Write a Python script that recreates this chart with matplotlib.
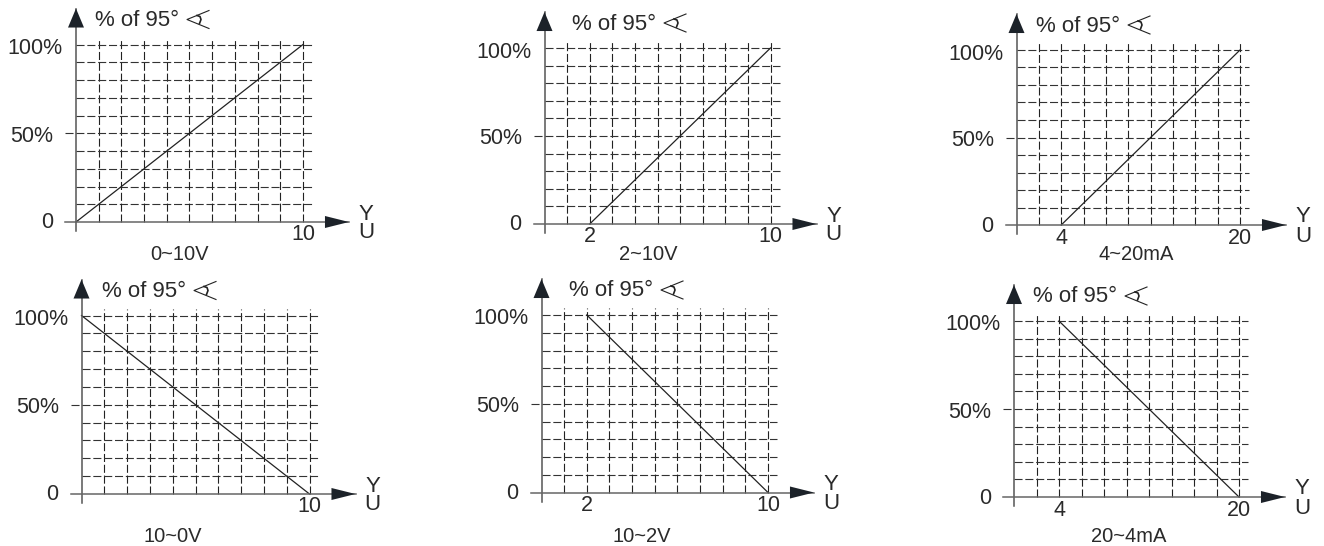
import matplotlib
matplotlib.use('Agg')
import matplotlib.pyplot as plt
from matplotlib.lines import Line2D
from matplotlib.transforms import IdentityTransform

plt.rcParams['font.family'] = ['Liberation Sans', 'DejaVu Sans']
plt.rcParams['lines.scale_dashes'] = False

W, H = 1324, 546

# data: input value vs % of 95 degrees
captions = ['0~10V', '2~10V', '4~20mA', '10~0V', '10~2V', '20~4mA']
x_ends = [[0, 10], [2, 10], [4, 20], [0, 10], [2, 10], [4, 20]]
y_ends = [[0, 100], [0, 100], [0, 100], [100, 0], [100, 0], [100, 0]]
x_max = [10, 10, 20, 10, 10, 20]
y_labels = ['0', '50%', '100%']
x_ticks = [[10], [2, 10], [4, 20], [10], [2, 10], [4, 20]]

# layout in pixels of the picture
origin_x = [76, 544.5, 1016.5, 81.5, 541.5, 1014]
right_x = [303, 770.5, 1240, 309.5, 768, 1239]
origin_y = [222, 224, 225, 494, 492.5, 497]
top_y = [44.5, 48, 50, 315.5, 315, 321]
head_dx = [19, 27.5, 19.5, 20.5, 27.5, 19]
caption_x = [179, 648, 1136, 173, 642, 1129]
caption_y = [255, 255, 255, 537, 537, 537]

DARK = '#1c2229'
DASH = (0, (5.8, 2.0))


def px_text(ax, x, y, dx, dy, s, size=15.5, ha='center'):
    # place text at a pixel offset from a data point
    ax.annotate(s, xy=(x, y), xytext=(dx * 0.72, -(dy + 1) * 0.72), textcoords='offset points',
                ha=ha, va='center', fontsize=size, color='#2a2a2a', annotation_clip=False)


fig = plt.figure(figsize=(W / 100, H / 100), dpi=100)

for i in range(6):
    x0, x1, y0, y1 = origin_x[i], right_x[i], origin_y[i], top_y[i]
    kx = x_max[i] / (x1 - x0)
    ky = 100 / (y0 - y1)
    ax = fig.add_axes([(x0 - 11) / W, (H - y0 - 9) / H, (x1 + 46 - x0 + 11) / W, (y0 + 9 - y1 + 36) / H])
    ax.set_xlim(-11 * kx, x_max[i] + 46 * kx)
    ax.set_ylim(-9 * ky, 100 + 36 * ky)
    ax.patch.set_alpha(0)
    ax.set_xticks([])
    ax.set_yticks([])
    for s in ['top', 'right']:
        ax.spines[s].set_visible(False)
    ax.spines['left'].set_position(('data', 0))
    ax.spines['bottom'].set_position(('data', 0))
    ax.spines['left'].set_color('#555555')
    ax.spines['bottom'].set_color('#666666')
    ax.spines['left'].set_linewidth(1.1)
    ax.spines['bottom'].set_linewidth(1.1)

    # dashed grid, 10 cells each way
    for n in range(1, 11):
        ax.plot([x_max[i] * n / 10] * 2, [0, 100 + 7 * ky], color='#222222', lw=0.8, ls=DASH)
        left = -11 * kx if n == 5 else 0
        ax.plot([left, x_max[i] + 9 * kx], [n * 10] * 2, color='#333333', lw=0.8, ls=DASH)

    ax.plot(x_ends[i], y_ends[i], color='#222222', lw=0.9)

    # arrow heads
    ax.annotate('', xy=(x_max[i] + 46 * kx, 0), xytext=(x_max[i] + 22 * kx, 0),
                arrowprops=dict(arrowstyle='-|>,head_length=1,head_width=0.25', mutation_scale=17.3,
                                shrinkA=0, shrinkB=0, lw=0, fc=DARK, ec=DARK))
    ax.annotate('', xy=(0, 100 + 36 * ky), xytext=(0, 100 + 17 * ky),
                arrowprops=dict(arrowstyle='-|>,head_length=1,head_width=0.42', mutation_scale=13.7,
                                shrinkA=0, shrinkB=0, lw=0, fc=DARK, ec=DARK))

    # texts
    px_text(ax, 0, 100, -41, 3, y_labels[2])
    px_text(ax, 0, 50, -44, 2, y_labels[1])
    px_text(ax, 0, 0, -29, 0, y_labels[0])
    for t in x_ticks[i]:
        px_text(ax, t, 0, 0, 12, str(t))
    px_text(ax, x_max[i], 0, 63, -9, 'Y', size=16)
    px_text(ax, x_max[i], 0, 63, 10, 'U', size=16)
    px_text(ax, 0, 100, head_dx[i], -25, '% of 95°', size=16, ha='left')
    fig.text(caption_x[i] / W, 1 - caption_y[i] / H, captions[i], ha='center', va='center',
             fontsize=14.5, color='#2a2a2a')

    # little eye sign after the heading
    ex = x0 + head_dx[i] + 92
    ey = H - (y1 - 25)
    fig.add_artist(Line2D([ex + 22, ex, ex + 22], [ey + 9, ey, ey - 9], color='#222222', lw=0.8,
                          transform=IdentityTransform()))
    fig.add_artist(Line2D([ex + 10, ex + 13, ex + 14, ex + 12.5], [ey + 4, ey + 3, ey, ey - 4], color='#222222', lw=1.2,
                          transform=IdentityTransform()))

fig.savefig('out.png', dpi=100)
